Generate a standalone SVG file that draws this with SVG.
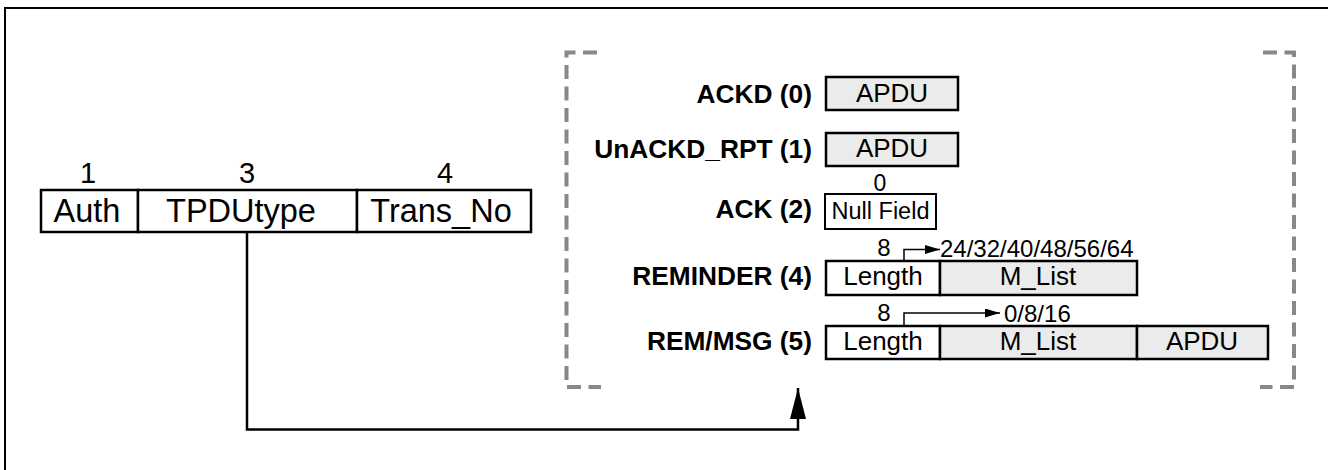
<svg xmlns="http://www.w3.org/2000/svg" width="1328" height="470" viewBox="0 0 1328 470">
<style>
  .box{stroke:#000;stroke-width:2.5;fill:#fff}
  .gray{fill:#ebebeb}
  .t{font-family:"Liberation Sans",Arial,sans-serif;font-size:26px;fill:#000;text-anchor:middle}
  .big{font-size:32.5px}
  .num{font-size:24px}
  .lbl{font-family:"Liberation Sans",Arial,sans-serif;font-size:26.3px;font-weight:bold;fill:#000;text-anchor:end}
  .dash{fill:none;stroke:#888;stroke-width:4;stroke-dasharray:14 7.5}
  .conn{fill:none;stroke:#000;stroke-width:2.5}
  .thin{fill:none;stroke:#000;stroke-width:1.5}
</style>
<defs>
  <marker id="bigArrow" markerUnits="userSpaceOnUse" markerWidth="31" markerHeight="16" refX="31" refY="8" orient="auto">
    <path d="M0,0 L31,8 L0,16 z" fill="#000"/>
  </marker>
  <marker id="smallArrow" markerUnits="userSpaceOnUse" markerWidth="15" markerHeight="9" refX="15" refY="4.5" orient="auto">
    <path d="M0,0 L15,4.5 L0,9 z" fill="#000"/>
  </marker>
</defs>
<rect x="5" y="8" width="1340" height="480" fill="#fff" stroke="#000" stroke-width="2"/>

<g id="tpdu-header">
  <rect class="box" x="41" y="190" width="97" height="42"/>
  <rect class="box" x="138" y="190" width="219" height="42"/>
  <rect class="box" x="357" y="190" width="174" height="42"/>
  <text class="t big" x="87" y="222">Auth</text>
  <text class="t big" x="241" y="222">TPDUtype</text>
  <text class="t big" x="441" y="222">Trans_No</text>
  <text class="t" style="font-size:29px" x="88" y="183">1</text>
  <text class="t" style="font-size:29px" x="247" y="183">3</text>
  <text class="t" style="font-size:29px" x="445" y="183">4</text>
</g>

<g id="bracket">
  <path class="dash" d="M597,52.5 H566.5 V387 H601"/>
  <path class="dash" d="M1263,52.5 H1294 V387 H1260"/>
</g>

<g id="ackd">
  <text class="lbl" x="812" y="103">ACKD (0)</text>
  <rect class="box gray" x="826" y="77" width="132" height="33"/>
  <text class="t" x="892" y="102">APDU</text>
</g>

<g id="unackd-rpt">
  <text class="lbl" x="812" y="158">UnACKD_RPT (1)</text>
  <rect class="box gray" x="826" y="133" width="132" height="33"/>
  <text class="t" x="892" y="157">APDU</text>
</g>

<g id="ack">
  <text class="lbl" x="812" y="218">ACK (2)</text>
  <text class="t" style="font-size:23px" x="880" y="191">0</text>
  <rect class="box" style="stroke-width:2" x="825" y="194" width="111" height="35"/>
  <text class="t" style="font-size:23.5px" x="880.5" y="219">Null Field</text>
</g>

<g id="reminder">
  <text class="lbl" x="812" y="285">REMINDER (4)</text>
  <rect class="box" x="826" y="261" width="114" height="34"/>
  <rect class="box gray" x="940" y="261" width="197" height="34"/>
  <text class="t" x="883" y="285">Length</text>
  <text class="t" x="1038" y="285">M_List</text>
  <text class="t num" x="884" y="256">8</text>
  <text class="t num" style="text-anchor:start" x="940" y="256.5">24/32/40/48/56/64</text>
</g>

<g id="rem-msg">
  <text class="lbl" x="812" y="350">REM/MSG (5)</text>
  <rect class="box" x="826" y="326" width="114" height="33"/>
  <rect class="box gray" x="940" y="326" width="197" height="33"/>
  <rect class="box gray" x="1137" y="326" width="131" height="33"/>
  <text class="t" x="883" y="350">Length</text>
  <text class="t" x="1038" y="350">M_List</text>
  <text class="t" x="1202" y="350">APDU</text>
  <text class="t num" x="884" y="321">8</text>
  <text class="t num" style="text-anchor:start" x="1004" y="321.5">0/8/16</text>
</g>

<g id="connectors">
  <path class="conn" d="M247,232 V429.5 H798 V388" marker-end="url(#bigArrow)"/>
  <path class="thin" d="M904,261 V249.5 H940" marker-end="url(#smallArrow)"/>
  <path class="thin" d="M904,326 V313 H1000" marker-end="url(#smallArrow)"/>
</g>
</svg>
